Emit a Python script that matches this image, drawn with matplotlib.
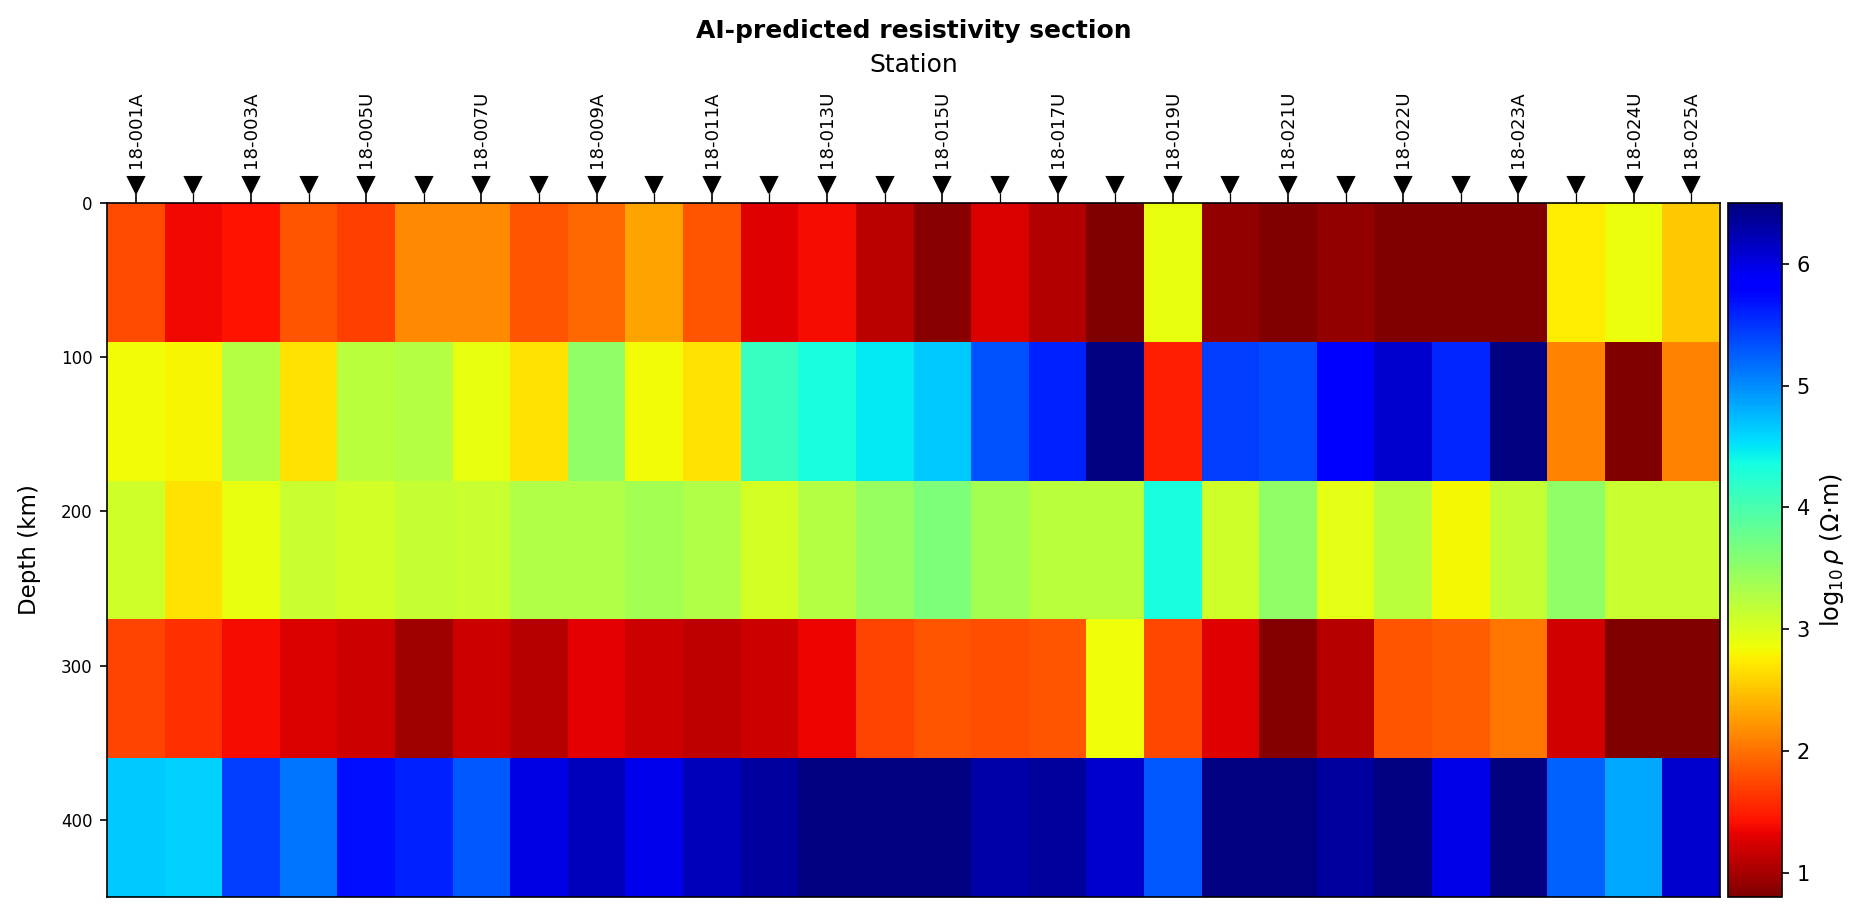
import numpy as np
import matplotlib
matplotlib.use('Agg')
import matplotlib.pyplot as plt
import matplotlib.transforms as mtransforms

# log10 resistivity per layer (rows) and station (columns)
layer_edges = [0, 90, 180, 270, 360, 450]
n_sta = 28

row0 = [1.77, 1.37, 1.44, 1.83, 1.71, 2.15, 2.15, 1.84, 1.94, 2.31, 1.84, 1.28, 1.40, 1.11,
        0.86, 1.26, 1.06, 0.75, 2.90, 0.89, 0.72, 0.89, 0.70, 0.74, 0.71, 2.74, 2.88, 2.52]
row1 = [2.84, 2.80, 3.26, 2.69, 3.22, 3.26, 2.90, 2.69, 3.50, 2.84, 2.69, 4.12, 4.33, 4.49,
        4.67, 5.34, 5.59, 6.55, 1.51, 5.45, 5.37, 5.84, 6.10, 5.57, 6.60, 2.10, 0.70, 2.10]
row2 = [3.09, 2.69, 2.91, 3.12, 3.05, 3.16, 3.12, 3.29, 3.29, 3.37, 3.29, 3.03, 3.26, 3.46,
        3.65, 3.37, 3.22, 3.22, 4.33, 3.09, 3.50, 2.92, 3.22, 2.81, 3.16, 3.50, 3.12, 3.12]
row3 = [1.73, 1.62, 1.39, 1.26, 1.18, 0.96, 1.18, 1.07, 1.30, 1.18, 1.12, 1.18, 1.34, 1.73,
        1.84, 1.80, 1.83, 2.86, 1.75, 1.28, 0.83, 1.07, 1.83, 1.88, 2.04, 1.22, 0.72, 0.70]
row4 = [4.67, 4.62, 5.45, 5.13, 5.70, 5.59, 5.29, 6.00, 6.21, 5.95, 6.19, 6.34, 6.60, 6.60,
        6.62, 6.29, 6.36, 6.12, 5.29, 6.50, 6.55, 6.34, 6.52, 5.97, 6.58, 5.24, 4.85, 6.12]

label_idx = [0, 2, 4, 6, 8, 10, 12, 14, 16, 18, 20, 22, 24, 26, 27]
label_txt = ['18-001A', '18-003A', '18-005U', '18-007U', '18-009A', '18-011A', '18-013U',
             '18-015U', '18-017U', '18-019U', '18-021U', '18-022U', '18-023A', '18-024U',
             '18-025A']

vmin, vmax = 0.8, 6.5

rho = np.array([row0, row1, row2, row3, row4])
x_edges = np.arange(n_sta + 1)
x_sta = np.arange(n_sta) + 0.5

W, H = 1867, 916
fig = plt.figure(figsize=(W / 150, H / 150), dpi=150)
ax = fig.add_axes([107 / W, 19 / H, (1720 - 107) / W, (897 - 203) / H])
cax = fig.add_axes([1728 / W, 19 / H, 54 / W, (897 - 203) / H])

im = ax.pcolormesh(x_edges, layer_edges, rho, cmap='jet_r', vmin=vmin, vmax=vmax)
ax.set_xlim(0, n_sta)
ax.set_ylim(450, 0)
ax.set_yticks([0, 100, 200, 300, 400])
ax.tick_params(axis='y', labelsize=8)
ax.set_ylabel('Depth (km)', fontsize=11, labelpad=9.5)

ax.xaxis.tick_top()
ax.set_xticks(x_sta[::2])
ax.set_xticks(x_sta[1::2], minor=True)
ax.tick_params(axis='x', which='major', length=6, labeltop=False, labelbottom=False)
ax.tick_params(axis='x', which='minor', length=5, top=True, bottom=False)
ax.xaxis.set_label_position('top')
ax.set_xlabel('Station', fontsize=12)
ax.xaxis.set_label_coords(0.5, 1 + 131 / 694)

# station markers just above the section
trans = mtransforms.blended_transform_factory(ax.transData, ax.transAxes)
ax.plot(x_sta, np.full(n_sta, 1.0255), 'kv', ms=8, transform=trans, clip_on=False)
for i, t in zip(label_idx, label_txt):
    ax.annotate(t, xy=(x_sta[i], 1.0), xycoords=trans, xytext=(0, 17),
                textcoords='offset points', rotation=90, ha='center', va='bottom',
                fontsize=8.7)

cb = fig.colorbar(im, cax=cax)
cb.set_ticks([1, 2, 3, 4, 5, 6])
cb.ax.tick_params(labelsize=10)
cb.set_label(r'$\log_{10}\rho$ (Ω·m)', fontsize=11.5)

fig.text((107 + 1720) / 2 / W, 1 - 31 / H, 'AI-predicted resistivity section',
         fontweight='bold', fontsize=12, ha='center', va='center')

plt.savefig('out.png', dpi=150)
